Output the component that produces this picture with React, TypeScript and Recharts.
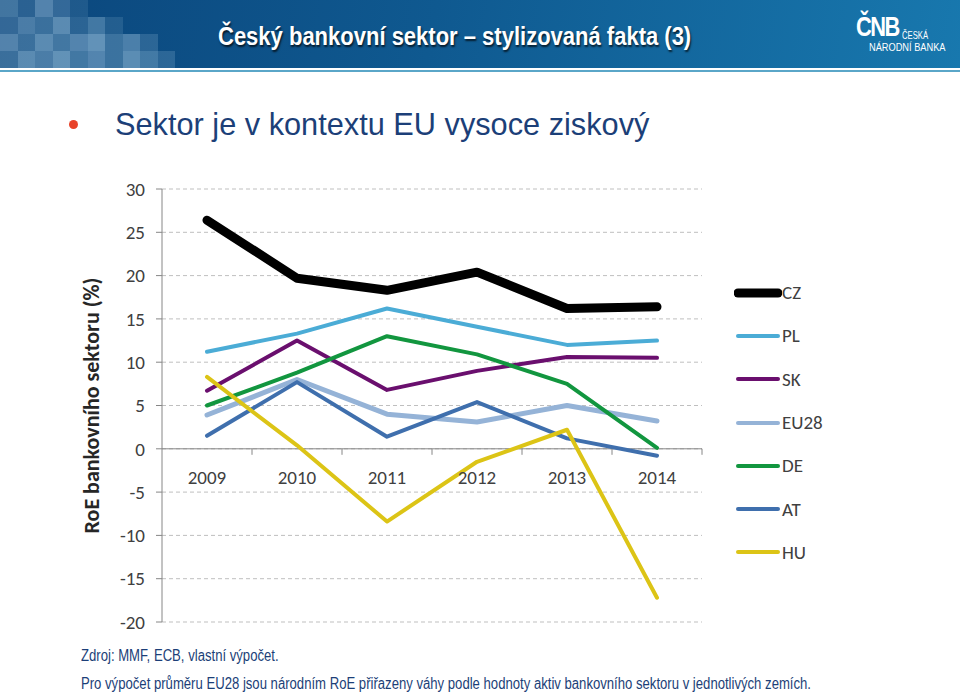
import React from 'react';
import { LineChart, Line, XAxis, YAxis, CartesianGrid, ReferenceLine, Legend, Label } from 'recharts';

const years = ['2009', '2010', '2011', '2012', '2013', '2014'];
const cz = [26.4, 19.7, 18.3, 20.4, 16.2, 16.4];
const pl = [11.2, 13.3, 16.2, 14.1, 12.0, 12.5];
const sk = [6.7, 12.5, 6.8, 9.0, 10.6, 10.5];
const eu28 = [3.9, 8.0, 4.0, 3.1, 5.0, 3.2];
const de = [5.0, 8.8, 13.0, 10.9, 7.5, 0.1];
const at = [1.5, 7.7, 1.4, 5.4, 1.2, -0.8];
const hu = [8.3, 0.4, -8.4, -1.5, 2.2, -17.2];
const yTicks = [-20, -15, -10, -5, 0, 5, 10, 15, 20, 25, 30];

const series = [
  { key: 'CZ', values: cz, color: '#000000', width: 9 },
  { key: 'PL', values: pl, color: '#4bacd6', width: 4 },
  { key: 'SK', values: sk, color: '#6a0f6e', width: 4 },
  { key: 'EU28', values: eu28, color: '#95b3d7', width: 5 },
  { key: 'DE', values: de, color: '#12963f', width: 4 },
  { key: 'AT', values: at, color: '#3f6fad', width: 4 },
  { key: 'HU', values: hu, color: '#dcc416', width: 4 },
];

const data = years.map((y, i) => {
  const row: any = { year: y };
  series.forEach((s) => (row[s.key] = s.values[i]));
  return row;
});

const TOP = 189;
const PLOT_H = 433;
const X_AXIS_H = 30;
const BAND = 90;
const Y_MIN = -20;
const Y_MAX = 30;
// distance from the bottom of the plot up to the zero line
const zeroFromBottom = (PLOT_H * -Y_MIN) / (Y_MAX - Y_MIN);

const chartFont = 'Carlito, "Open Sans", Lato, sans-serif';
const narrow = '"Liberation Sans", Arial, sans-serif';

const YearTick = ({ x, y, payload }: any) => {
  const zy = y - zeroFromBottom;
  return (
    <g>
      <line x1={x + BAND / 2} x2={x + BAND / 2} y1={zy} y2={zy + 6} stroke="#868686" />
      <text x={x} y={zy + 35} textAnchor="middle" fontSize={19} fill="#404040" fontFamily={chartFont}>
        {payload.value}
      </text>
    </g>
  );
};

const LegendContent = () => (
  <div style={{ fontFamily: chartFont }}>
    {series.map((s) => (
      <div key={s.key} style={{ display: 'flex', alignItems: 'center', height: 43.3 }}>
        <svg width={48} height={12}>
          <line x1={4} x2={44} y1={6} y2={6} stroke={s.color} strokeWidth={s.key === 'CZ' ? 9 : 4} strokeLinecap="round" />
        </svg>
        <span style={{ fontSize: 19, color: '#404040' }}>{s.key}</span>
      </div>
    ))}
  </div>
);

const mosaic: [number, number, number][] = [
  [0, 0, 0.35], [1, 0, 0.2], [2, 0, 0.45], [3, 0, 0.25], [4, 0, 0.12],
  [0, 1, 0.25], [1, 1, 0.4], [2, 1, 0.3], [3, 1, 0.5], [4, 1, 0.2], [5, 1, 0.35], [6, 1, 0.15],
  [0, 2, 0.45], [1, 2, 0.3], [2, 2, 0.5], [3, 2, 0.35], [4, 2, 0.45], [5, 2, 0.55], [6, 2, 0.3], [7, 2, 0.4], [8, 2, 0.2],
  [0, 3, 0.3], [1, 3, 0.5], [2, 3, 0.4], [3, 3, 0.55], [4, 3, 0.35], [5, 3, 0.45], [6, 3, 0.3], [7, 3, 0.5], [8, 3, 0.35], [9, 3, 0.2],
];

const squeeze = (sx: number): React.CSSProperties => ({ transform: `scaleX(${sx})`, transformOrigin: 'left top', whiteSpace: 'nowrap' });

export default function App() {
  return (
    <div style={{ position: 'absolute', left: 0, top: 0, width: 960, height: 697, background: '#fff', overflow: 'hidden' }}>
      <div
        style={{
          position: 'absolute', left: 0, top: 0, width: 960, height: 68,
          background: 'linear-gradient(100deg, #0b467c 0%, #0f5990 45%, #1878ae 100%)',
        }}
      >
        {mosaic.map(([c, r, o], i) => (
          <div key={i} style={{ position: 'absolute', left: c * 17.5, top: r * 17, width: 17.5, height: 17, background: `rgba(170,205,230,${o})` }} />
        ))}
        <div
          style={{
            position: 'absolute', left: 218, top: 22, color: '#fff',
            fontFamily: narrow, fontWeight: 'bold', fontSize: 25, textShadow: '1px 2px 2px rgba(0,0,0,0.7)',
            ...squeeze(0.88),
          }}
        >
          Český bankovní sektor – stylizovaná fakta (3)
        </div>
        <div style={{ position: 'absolute', left: 856, top: 14, color: '#fff', fontFamily: narrow, fontSize: 28, lineHeight: '26px', fontWeight: 'bold', letterSpacing: -2, ...squeeze(0.78) }}>
          ČNB
        </div>
        <div style={{ position: 'absolute', left: 902, top: 29, color: '#fff', fontFamily: narrow, fontSize: 11, lineHeight: '12px', ...squeeze(0.7) }}>
          ČESKÁ
        </div>
        <div style={{ position: 'absolute', left: 869, top: 41, color: '#fff', fontFamily: narrow, fontSize: 11, lineHeight: '12px', ...squeeze(0.84) }}>
          NÁRODNÍ BANKA
        </div>
      </div>
      <div style={{ position: 'absolute', left: 0, top: 68, width: 960, height: 2, background: '#fff' }} />
      <div style={{ position: 'absolute', left: 0, top: 70, width: 960, height: 2, background: '#5aa6c8' }} />

      <div style={{ position: 'absolute', left: 69, top: 120, width: 9, height: 9, borderRadius: 5, background: '#e8432a' }} />
      <div style={{ position: 'absolute', left: 115, top: 106, fontFamily: narrow, fontSize: 32, color: '#1c3f78', ...squeeze(0.96) }}>
        Sektor je v kontextu EU vysoce ziskový
      </div>

      <LineChart
        width={960}
        height={697}
        data={data}
        margin={{ top: TOP, right: 258, bottom: 697 - TOP - PLOT_H - X_AXIS_H, left: 102 }}
        style={{ position: 'absolute', left: 0, top: 0 }}
      >
        <CartesianGrid vertical={false} stroke="#bfbfbf" strokeDasharray="4 3" />
        <XAxis
          dataKey="year"
          height={X_AXIS_H}
          axisLine={false}
          tickLine={false}
          tickSize={0}
          tickMargin={0}
          padding={{ left: BAND / 2, right: BAND / 2 }}
          tick={<YearTick />}
          interval={0}
        />
        <YAxis
          width={60}
          domain={[Y_MIN, Y_MAX]}
          ticks={yTicks}
          interval={0}
          axisLine={{ stroke: '#868686' }}
          tickLine={{ stroke: '#868686' }}
          tickSize={6}
          tickMargin={11}
          tick={{ fontSize: 19, fill: '#404040', fontFamily: chartFont }}
        >
          <Label
            value="RoE bankovního sektoru (%)"
            angle={-90}
            position="insideLeft"
            offset={-11}
            style={{ textAnchor: 'middle', fontSize: 22, fontWeight: 'bold', fill: '#262626', fontFamily: chartFont }}
          />
        </YAxis>
        <ReferenceLine y={0} stroke="#868686" strokeWidth={1} />
        {series.map((s) => (
          <Line
            key={s.key}
            dataKey={s.key}
            stroke={s.color}
            strokeWidth={s.width}
            dot={false}
            activeDot={false}
            strokeLinejoin="round"
            strokeLinecap="round"
            isAnimationActive={false}
          />
        ))}
        <Legend
          layout="vertical"
          align="center"
          verticalAlign="middle"
          content={<LegendContent />}
          wrapperStyle={{ left: 734, top: 271, width: 120 }}
        />
      </LineChart>

      <div style={{ position: 'absolute', left: 81, top: 647, fontFamily: narrow, fontSize: 16, color: '#1c3f78', ...squeeze(0.82) }}>
        Zdroj: MMF, ECB, vlastní výpočet.
      </div>
      <div style={{ position: 'absolute', left: 81, top: 675, fontFamily: narrow, fontSize: 16, color: '#1c3f78', ...squeeze(0.82) }}>
        Pro výpočet průměru EU28 jsou národním RoE přiřazeny váhy podle hodnoty aktiv bankovního sektoru v jednotlivých zemích.
      </div>
    </div>
  );
}
